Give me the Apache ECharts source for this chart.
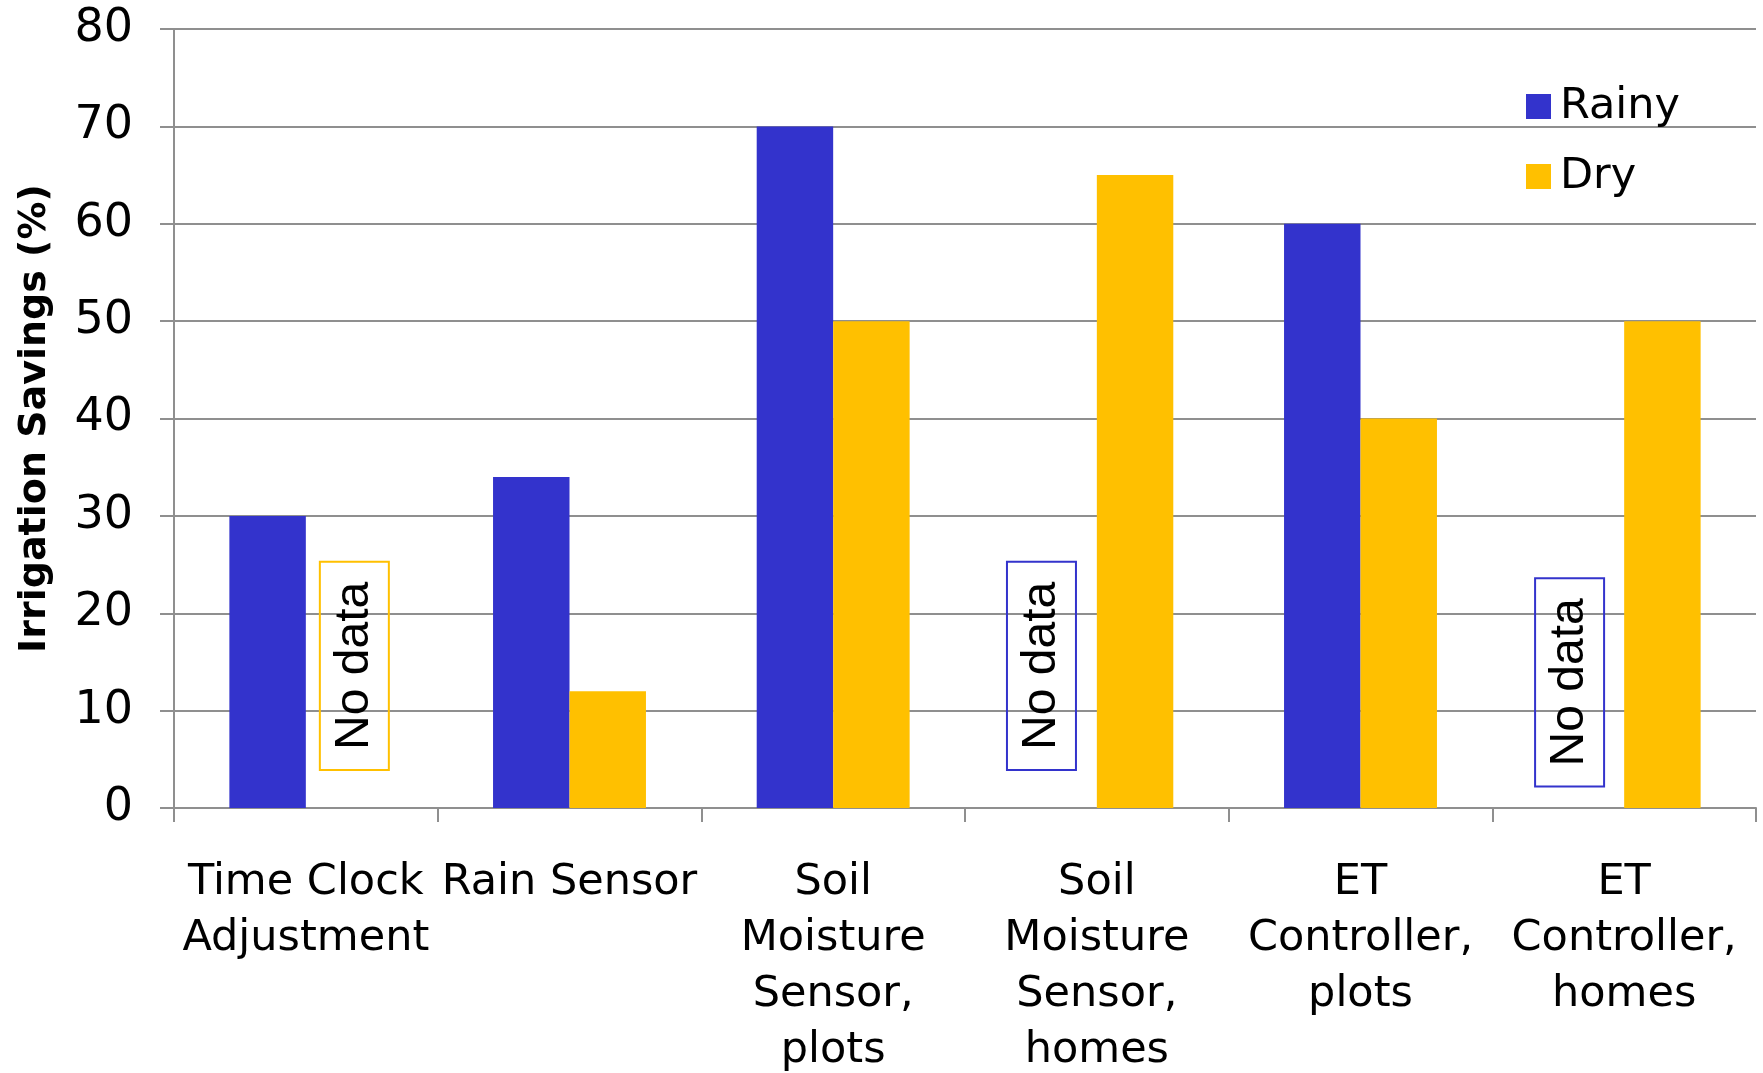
<!DOCTYPE html>
<html>
<head>
<meta charset="utf-8">
<script src="https://cdn.jsdelivr.net/npm/echarts@6/dist/echarts.min.js"></script>
<style>html,body{margin:0;padding:0;background:#fff}#c{width:1763px;height:1073px}</style>
</head>
<body>
<div id="c"></div>
<script>
const categories = ['Time Clock\nAdjustment', 'Rain Sensor', 'Soil\nMoisture\nSensor,\nplots', 'Soil\nMoisture\nSensor,\nhomes', 'ET\nController,\nplots', 'ET\nController,\nhomes'];
const rainy = [30, 34, 70, null, 60, null];
const dry = [null, 12, 50, 65, 40, 50];
// "No data" annotations: category index, low value, high value, missing series
const noDataCat = [0, 3, 5];
const noDataLow = [3.9, 3.9, 2.2];
const noDataHigh = [25.3, 25.3, 23.6];
const noDataSeries = ['Dry', 'Rainy', 'Rainy'];

const colors = { Rainy: '#3333CC', Dry: '#FFC000' };
const boxShift = [0.184, -0.21, -0.207];
const gridColor = '#8f8f8f';
const font = 'DejaVu Sans';

const chart = echarts.init(document.getElementById('c'));
chart.setOption({
  animation: false,
  backgroundColor: '#fff',
  grid: { left: 174, right: 7, top: 29, bottom: 265, containLabel: false, outerBoundsMode: 'none' },
  legend: {
    data: ['Rainy', 'Dry'],
    orient: 'vertical',
    left: 1521, top: 80,
    icon: 'rect', itemWidth: 25, itemHeight: 25, itemGap: 27,
    textStyle: { fontFamily: font, fontSize: 43, color: '#000', padding: [0, 0, 0, 4] }
  },
  xAxis: {
    type: 'category',
    data: categories,
    axisLine: { lineStyle: { color: gridColor, width: 2 } },
    axisTick: { show: true, length: 14, lineStyle: { color: gridColor, width: 2 } },
    axisLabel: { interval: 0, margin: 47, fontFamily: font, fontSize: 43, color: '#000', lineHeight: 56 }
  },
  yAxis: {
    type: 'value', min: 0, max: 80, interval: 10,
    name: 'Irrigation Savings (%)',
    nameLocation: 'middle', nameGap: 120,
    nameTextStyle: { fontFamily: font, fontSize: 38, fontWeight: 'bold', color: '#000' },
    axisLine: { show: true, lineStyle: { color: gridColor, width: 2 } },
    axisTick: { show: true, length: 14, lineStyle: { color: gridColor, width: 2 } },
    axisLabel: { margin: 41, fontFamily: font, fontSize: 46, color: '#000' },
    splitLine: { lineStyle: { color: gridColor, width: 2 } }
  },
  series: [
    { name: 'Rainy', type: 'bar', data: rainy, barGap: '0%', barCategoryGap: '42%', itemStyle: { color: colors.Rainy } },
    { name: 'Dry', type: 'bar', data: dry, barGap: '0%', barCategoryGap: '42%', itemStyle: { color: colors.Dry } },
    {
      name: 'noData', type: 'custom',
      data: noDataCat.map((c, i) => [c, noDataLow[i], noDataHigh[i], i]),
      encode: { x: 0, y: [1, 2] },
      z: 5,
      renderItem: function (params, api) {
        const idx = api.value(3);
        const band = api.size([1, 0])[0];
        const top = api.coord([api.value(0), api.value(2)]);
        const bot = api.coord([api.value(0), api.value(1)]);
        const cx = top[0] + boxShift[idx] * band;
        const w = 69;
        const color = colors[noDataSeries[idx]];
        return {
          type: 'group',
          children: [
            { type: 'rect', shape: { x: cx - w / 2, y: top[1], width: w, height: bot[1] - top[1] },
              style: { fill: null, stroke: color, lineWidth: 2 } },
            { type: 'text', x: cx, y: (top[1] + bot[1]) / 2, rotation: Math.PI / 2,
              style: { text: 'No data', fill: '#000', font: '48px "Liberation Sans"', align: 'center', verticalAlign: 'middle' } }
          ]
        };
      }
    }
  ]
});
</script>
</body>
</html>
